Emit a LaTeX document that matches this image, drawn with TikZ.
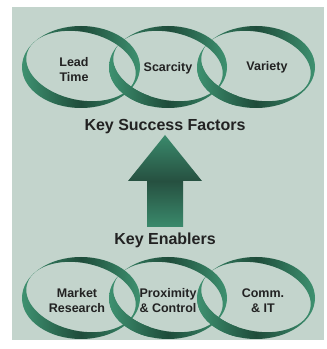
\documentclass[tikz,border=0pt]{standalone}
\usepackage{fontspec}
\setmainfont{Liberation Sans}
\definecolor{panel}{RGB}{195,212,204}
\definecolor{ringlight}{RGB}{62,145,112}
\definecolor{ringdark}{RGB}{30,76,58}
\definecolor{txt}{RGB}{34,34,34}
\definecolor{arrlight}{RGB}{58,138,108}
\definecolor{arrdark}{RGB}{38,80,64}
\tikzset{
  ringband/.pic={
    \shade[even odd rule, left color=ringlight, right color=ringlight, middle color=ringdark]
      (0,0) ellipse [x radius=59pt, y radius=41pt]
      (0pt,1pt) ellipse [x radius=55.5pt, y radius=34pt, rotate=-12];
  },
  lbl/.style={font=\fontsize{12.5}{15}\selectfont\bfseries, text=txt, align=center},
  head/.style={font=\fontsize{16}{19}\selectfont\bfseries, text=txt, anchor=base},
}
\begin{document}
\begin{tikzpicture}[x=1pt,y=1pt]
\useasboundingbox (0,0) rectangle (327,349);
\fill[panel] (12,9) rectangle (324,342);
% top row rings (ring1 over ring2 over ring3, then bottom parts re-layered)
\pic at (256,282) {ringband};
\pic at (168,282) {ringband};
\pic at (81,282) {ringband};
\begin{scope}
  \clip (100,240) rectangle (150,282);
  \pic at (168,282) {ringband};
\end{scope}
\begin{scope}
  \clip (188,240) rectangle (238,282);
  \pic at (256,282) {ringband};
\end{scope}
% bottom row rings
\pic at (256,51) {ringband};
\pic at (168,51) {ringband};
\pic at (81,51) {ringband};
\begin{scope}
  \clip (100,9) rectangle (150,51);
  \pic at (168,51) {ringband};
\end{scope}
\begin{scope}
  \clip (188,9) rectangle (238,51);
  \pic at (256,51) {ringband};
\end{scope}
% labels
\node[lbl] (lead) at (74,279) {Lead\\Time};
\node[lbl] (scar) at (168,281) {Scarcity};
\node[lbl] (vari) at (267,282) {Variety};
\node[lbl] (mark) at (77,48) {Market\\Research};
\node[lbl] (prox) at (168,48) {Proximity\\\& Control};
\node[lbl] (comm) at (263,48) {Comm.\\\& IT};
% headings
\node[head] (ksf) at (165,218) {Key Success Factors};
\node[head] (ken) at (165,104) {Key Enablers};
% arrow
\shade[top color=arrlight, bottom color=arrlight, middle color=arrdark]
  (165,214) -- (202,168) -- (183,168) -- (183,122) -- (147,122) -- (147,168) -- (128,168) -- cycle;
\end{tikzpicture}
\end{document}
